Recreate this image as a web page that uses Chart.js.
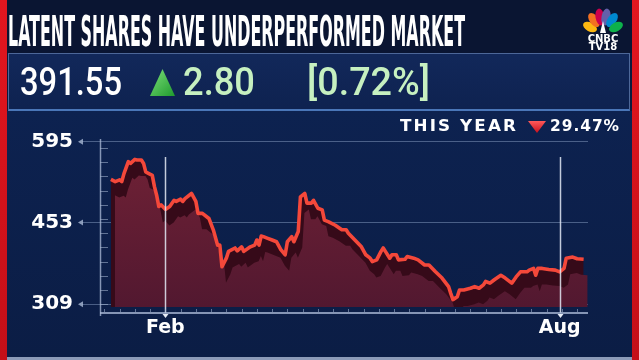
<!DOCTYPE html>
<html>
<head>
<meta charset="utf-8">
<script src="https://cdn.jsdelivr.net/npm/chart.js@4.4.0/dist/chart.umd.min.js"></script>
<style>
  html, body { margin: 0; padding: 0; width: 639px; height: 360px; overflow: hidden; background: #0b1a3c; }
  .abs { position: absolute; white-space: nowrap; transform-origin: left top; }
  .strip { position: absolute; top: 0; width: 7px; height: 360px; background: linear-gradient(#e3161f, #c40f18); }
  #titlebar { position: absolute; left: 7px; top: 0; width: 625px; height: 53px; background: #0a1532; }
  #title { font: bold 42px "Liberation Sans Narrow", "DejaVu Sans Condensed", sans-serif; line-height: 42px; color: #fff; left: 8px; top: 11px; }
  #pricebox { position: absolute; left: 8px; top: 53px; width: 620px; height: 55px; background: linear-gradient(#12285a, #0e2250);
    border: 1px solid rgba(120,150,200,0.6); border-bottom: 2px solid #4a76b8; }
  #panel { position: absolute; left: 7px; top: 111px; width: 625px; height: 246px; background: linear-gradient(#0d2250, #0b1d45); }
  #bottomline { position: absolute; left: 7px; top: 357px; width: 625px; height: 3px; background: #8c9bb8; }
  .price { font: 500 38px Roboto, sans-serif; line-height: 38px; top: 63px; }
  #last { left: 20px; color: #fff; }
  #chg { left: 183px; color: #c6f0c0; }
  #pct { left: 307px; color: #c6f0c0; }
  #uptri { position: absolute; left: 150px; top: 69px; width: 25px; height: 27px;
    background: linear-gradient(135deg, #7ee07a, #1f9a2e); clip-path: polygon(50% 0, 100% 100%, 0 100%); }
  .ytd { font: bold 16px "DejaVu Sans", sans-serif; line-height: 16px; color: #fff; top: 118px; letter-spacing: 2px; }
  #ytdlabel { left: 400px; }
  #ytdval { left: 550px; letter-spacing: 1px; }
  #downtri { position: absolute; left: 528px; top: 121px; width: 18px; height: 12px;
    background: linear-gradient(#ff5a5a, #c8101c); clip-path: polygon(0 0, 100% 0, 50% 100%); }
  #logo { position: absolute; left: 580px; top: 6px; width: 46px; }
  .logotxt { position: absolute; width: 46px; text-align: center; color: #fff; font: bold 10px "DejaVu Sans", sans-serif; line-height: 9px; }
  canvas { position: absolute; left: 0; top: 0; }
</style>
</head>
<body>
<div class="strip" style="left:0"></div>
<div class="strip" style="left:632px"></div>
<div id="titlebar"></div>
<div id="pricebox"></div>
<div id="panel"></div>
<div id="bottomline"></div>

<canvas id="stockChart" width="639" height="360"></canvas>

<div id="title" class="abs">LATENT SHARES HAVE UNDERPERFORMED MARKET</div>
<svg id="logo" width="46" height="46" viewBox="0 0 46 46">
  <g transform="translate(23,27)">
    <ellipse cx="-13" cy="-6" rx="4.5" ry="7.5" fill="#fcb711" transform="rotate(-62 -13 -6)"/>
    <ellipse cx="-9" cy="-13" rx="4.5" ry="8" fill="#f37021" transform="rotate(-35 -9 -13)"/>
    <ellipse cx="-3" cy="-16" rx="4.5" ry="8.5" fill="#cc004c" transform="rotate(-10 -3 -16)"/>
    <ellipse cx="3" cy="-16" rx="4.5" ry="8.5" fill="#6460aa" transform="rotate(10 3 -16)"/>
    <ellipse cx="9" cy="-13" rx="4.5" ry="8" fill="#0089d0" transform="rotate(35 9 -13)"/>
    <ellipse cx="13" cy="-6" rx="4.5" ry="7.5" fill="#0db14b" transform="rotate(62 13 -6)"/>
    <path d="M-3,0 L0,-12 L3,0 Z" fill="#fff"/>
  </g>
</svg>
<div class="logotxt" style="left:580px;top:34px">CNBC</div>
<div class="logotxt" style="left:580px;top:42px">TV18</div>

<div id="last" class="abs price">391.55</div>
<div id="uptri"></div>
<div id="chg" class="abs price">2.80</div>
<div id="pct" class="abs price">[0.72%]</div>

<div id="ytdlabel" class="abs ytd">THIS YEAR</div>
<div id="downtri"></div>
<div id="ytdval" class="abs ytd">29.47%</div>

<script>
// day of year (Jan 1 = 0) and closing price
const days = [6, 8, 10, 11, 12, 14, 15, 17, 18, 20, 21, 22, 23, 25, 26, 27, 28, 29, 30, 31,
  33, 35, 36, 38, 39, 40, 43, 45, 46, 48, 51, 53, 55, 56, 57, 59, 60, 63, 64, 66,
  67, 70, 72, 73, 74, 75, 76, 78, 80, 82, 84, 86, 87, 89, 90, 92, 93, 95, 96, 98,
  99, 101, 103, 104, 106, 109, 112, 114, 115, 118, 121, 123, 125, 126, 128, 130, 131, 132, 134, 135,
  137, 138, 141, 142, 145, 147, 150, 152, 155, 158, 161, 162, 163, 165, 166, 168, 171, 173, 175, 177,
  178, 180, 182, 185, 187, 190, 192, 194, 197, 198, 200, 201, 202, 204, 207, 210, 212, 214, 215, 218,
  220, 223];
const prices = [529, 525, 528, 525, 539, 560, 557, 564, 563, 563, 557, 542, 540, 536, 516, 501, 481, 484, 480, 476,
  481, 492, 490, 494, 490, 495, 504, 490, 469, 469, 460, 440, 413, 413, 375, 390, 402, 408, 403, 410,
  402, 410, 413, 422, 413, 429, 428, 425, 422, 419, 405, 396, 419, 428, 419, 437, 498, 504, 487, 487,
  492, 478, 475, 457, 454, 448, 440, 440, 434, 422, 410, 396, 390, 384, 387, 402, 408, 402, 390, 396,
  396, 387, 388, 393, 390, 387, 378, 378, 366, 355, 340, 328, 317, 322, 334, 334, 337, 340, 337, 343,
  349, 346, 352, 360, 355, 346, 357, 366, 366, 369, 372, 360, 372, 372, 370, 369, 366, 372, 390, 392,
  389, 388];

const yTicks = [309, 453, 595];
const monthLabels = ['Feb', 'Aug'];
const monthDays = [31, 212];

const X_MIN = 1, X_MAX = 225;
const Y_MIN = 304, Y_MAX = 600;
const AREA_W = 488, AREA_H = 168;
const DEPTH_X = 4, DEPTH_Y = 16; // px offset of the ribbon's lower edge

const LINE_COLOR = "#f4483a";
const BAND_COLOR = "#360a19";
const GRID_COLOR = "rgba(150,172,208,0.45)";
const AXIS_COLOR = "rgba(175,190,218,0.75)";

function fit(id, w) {
  const el = document.getElementById(id);
  el.style.transform = `scaleX(${w / el.getBoundingClientRect().width})`;
}
fit('title', 457);
fit('last', 102);
fit('chg', 72);
fit('pct', 123);
fit('ytdlabel', 118);
fit('ytdval', 70);

const points = days.map((d, i) => ({ x: d, y: prices[i] }));
const dx = DEPTH_X * (X_MAX - X_MIN) / AREA_W;
const dy = DEPTH_Y * (Y_MAX - Y_MIN) / AREA_H;

const decor = {
  id: 'decor',
  afterDatasetsDraw(chart) {
    const { ctx, chartArea: a, scales: { x } } = chart;
    ctx.save();
    monthDays.forEach(d => {
      const px = Math.round(x.getPixelForValue(d)) + 0.5;
      ctx.strokeStyle = 'rgba(228,234,246,0.85)';
      ctx.lineWidth = 1.5;
      ctx.beginPath();
      ctx.moveTo(px, a.top + 18);
      ctx.lineTo(px, a.bottom + 6);
      ctx.stroke();
      ctx.fillStyle = '#e6ecf6';
      ctx.beginPath();
      ctx.moveTo(px - 3, a.bottom + 7);
      ctx.lineTo(px + 3, a.bottom + 7);
      ctx.lineTo(px, a.bottom + 11);
      ctx.fill();
    });
    ctx.restore();
  },
  afterDraw(chart) {
    const { ctx, chartArea: a, scales: { x, y } } = chart;
    ctx.save();
    ctx.strokeStyle = AXIS_COLOR;
    ctx.lineWidth = 1.5;
    // y axis line
    ctx.beginPath();
    ctx.moveTo(a.left + 0.5, a.top);
    ctx.lineTo(a.left + 0.5, a.bottom + 9);
    ctx.stroke();
    // x axis line
    ctx.lineWidth = 2;
    ctx.beginPath();
    ctx.moveTo(a.left, a.bottom + 6);
    ctx.lineTo(a.right, a.bottom + 6);
    ctx.stroke();
    // minor ticks
    ctx.lineWidth = 1;
    ctx.strokeStyle = 'rgba(170,186,214,0.55)';
    for (let v = yTicks[0]; v < Y_MAX - 10; v += 25) {
      const py = Math.round(y.getPixelForValue(v)) + 0.5;
      ctx.beginPath();
      ctx.moveTo(a.left, py);
      ctx.lineTo(a.left + 8, py);
      ctx.stroke();
    }
    for (let d = 3; d < X_MAX; d += 7) {
      const px = Math.round(x.getPixelForValue(d)) + 0.5;
      ctx.beginPath();
      ctx.moveTo(px, a.bottom + 2);
      ctx.lineTo(px, a.bottom + 5);
      ctx.stroke();
    }
    // small arrows beside the price labels
    ctx.fillStyle = 'rgba(170,186,214,0.8)';
    yTicks.forEach(v => {
      const py = y.getPixelForValue(v);
      ctx.beginPath();
      ctx.moveTo(a.left - 22, py);
      ctx.lineTo(a.left - 17, py - 3);
      ctx.lineTo(a.left - 17, py + 3);
      ctx.fill();
    });
    ctx.restore();
  }
};

new Chart(document.getElementById('stockChart').getContext('2d'), {
  type: 'line',
  data: {
    datasets: [
      {
        label: 'line',
        data: points,
        xAxisID: 'x',
        yAxisID: 'y',
        borderColor: LINE_COLOR,
        borderWidth: 3.6,
        borderJoinStyle: 'round',
        fill: false,
        tension: 0,
        pointRadius: 0,
        order: 1
      },
      {
        label: 'body',
        data: points,
        xAxisID: 'xd',
        yAxisID: 'yd',
        borderWidth: 0,
        backgroundColor: ctx => {
          const a = ctx.chart.chartArea;
          if (!a) return '#621c31';
          const g = ctx.chart.ctx.createLinearGradient(0, a.top, 0, a.bottom);
          g.addColorStop(0, '#722236');
          g.addColorStop(1, '#521830');
          return g;
        },
        fill: 'start',
        tension: 0,
        pointRadius: 0,
        order: 2
      },
      {
        label: 'band',
        data: points,
        xAxisID: 'x',
        yAxisID: 'y',
        borderWidth: 0,
        backgroundColor: BAND_COLOR,
        fill: 'start',
        tension: 0,
        pointRadius: 0,
        order: 3
      }
    ]
  },
  options: {
    responsive: false,
    animation: false,
    layout: { padding: { top: 139, right: 51, left: 0, bottom: 0 } },
    plugins: {
      legend: { display: false },
      tooltip: { enabled: false }
    },
    scales: {
      x: {
        type: 'linear',
        min: X_MIN,
        max: X_MAX,
        afterFit: s => { s.height = 53; },
        afterBuildTicks: s => { s.ticks = monthDays.map(v => ({ value: v })); },
        grid: { display: false, drawTicks: false },
        border: { display: false },
        ticks: {
          padding: 10,
          color: '#ffffff',
          font: { family: 'DejaVu Sans', size: 19, weight: 'bold' },
          maxRotation: 0,
          autoSkip: false,
          callback: v => monthLabels[monthDays.indexOf(v)] || ''
        }
      },
      y: {
        min: Y_MIN,
        max: Y_MAX,
        z: 1,
        afterFit: s => { s.width = 100; },
        afterBuildTicks: s => { s.ticks = yTicks.map(v => ({ value: v })); },
        grid: { color: GRID_COLOR, lineWidth: 1, tickLength: 18, tickColor: GRID_COLOR },
        border: { display: false },
        ticks: {
          padding: 9,
          color: '#ffffff',
          font: { family: 'DejaVu Sans', size: 20, weight: 'bold' }
        }
      },
      xd: { type: 'linear', display: false, min: X_MIN - dx, max: X_MAX - dx },
      yd: { type: 'linear', display: false, min: Y_MIN + dy, max: Y_MAX + dy }
    }
  },
  plugins: [decor]
});
</script>
</body>
</html>
